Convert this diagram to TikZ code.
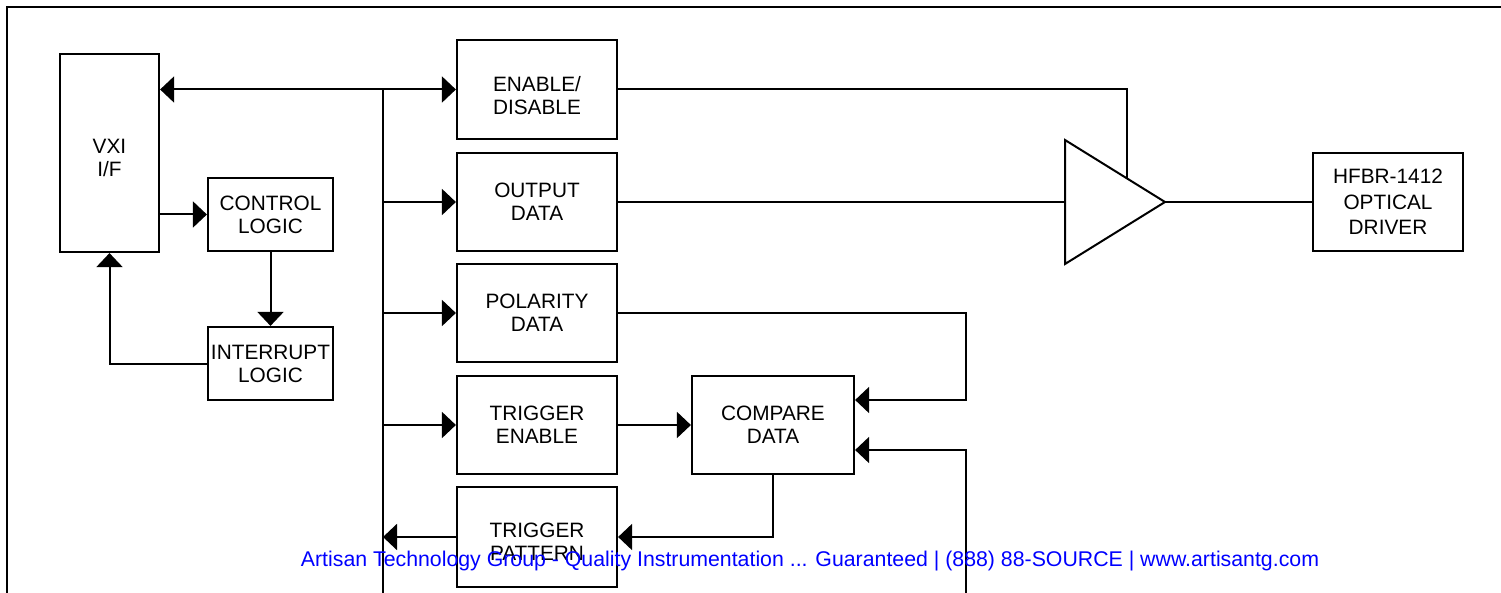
\documentclass[tikz,border=0pt]{standalone}
\usepackage{fontspec}
\setmainfont{Liberation Sans}
\usetikzlibrary{arrows.meta}
\newcommand{\shifted}[2]{\raisebox{#1}[\height][\depth]{\begin{tabular}{@{}c@{}}#2\end{tabular}}}
\begin{document}
\begin{tikzpicture}[x=1pt,y=-1pt,
  blk/.style={draw, line width=2.2pt, fill=white, align=center, inner sep=0pt,
    font=\fontsize{20.8}{23}\selectfont},
  wire/.style={line width=2pt},
  arr/.style={wire, -{Triangle[length=14pt,width=26pt]}},
  barr/.style={wire, {Triangle[length=14pt,width=26pt]}-{Triangle[length=14pt,width=26pt]}}]
\useasboundingbox (0,0) rectangle (1501,593);
% frame
\draw[line width=2pt] (7,593) -- (7,7) -- (1501,7);
% blocks
\node[blk, minimum width=99pt, minimum height=198pt] (vxi) at (109.5,153) {\shifted{-7pt}{VXI\\I/F}};
\node[blk, minimum width=125pt, minimum height=73pt] (ctrl) at (270.5,214.5) {CONTROL\\LOGIC};
\node[blk, minimum width=125pt, minimum height=73pt] (intr) at (270.5,363.5) {INTERRUPT\\LOGIC};
\node[blk, minimum width=160pt, minimum height=99pt] (en) at (537,89.5) {\shifted{-8.5pt}{ENABLE/\\DISABLE}};
\node[blk, minimum width=160pt, minimum height=98pt] (out) at (537,202) {OUTPUT\\DATA};
\node[blk, minimum width=160pt, minimum height=98pt] (pol) at (537,313) {POLARITY\\DATA};
\node[blk, minimum width=160pt, minimum height=98pt] (ten) at (537,425) {TRIGGER\\ENABLE};
\node[blk, minimum width=160pt, minimum height=100pt] (tpat) at (537,537) {\shifted{-7pt}{TRIGGER\\PATTERN}};
\node[blk, minimum width=162pt, minimum height=98pt] (cmp) at (773,425) {COMPARE\\DATA};
\node[blk, minimum width=150pt, minimum height=98pt, font=\fontsize{20.8}{25.5}\selectfont] (hfbr) at (1388,202) {HFBR-1412\\OPTICAL\\DRIVER};
% coordinates
\coordinate (bustop) at (383,89.5);
\coordinate (busbot) at (383,593);
\coordinate (tl) at (1065,140);
\coordinate (tb) at (1065,264);
\coordinate (ta) at (1165,202);
\coordinate (tin) at (1065,202);
\coordinate (tup) at (1127,178.5);
\coordinate (pr) at (966,400);
\coordinate (bt) at (966,450);
\coordinate (bb) at (966,593);
% connectors
\draw[barr] (vxi.east |- en.west) -- (en.west);
\draw[wire] (bustop) -- (busbot);
\draw[arr] (bustop |- out.west) -- (out.west);
\draw[arr] (bustop |- pol.west) -- (pol.west);
\draw[arr] (bustop |- ten.west) -- (ten.west);
\draw[arr] (tpat.west) -- (bustop |- tpat.west);
\draw[arr] (vxi.east |- ctrl.west) -- (ctrl.west);
\draw[arr] (ctrl.south) -- (intr.north);
\draw[arr] (intr.west) -| (vxi.south);
\draw[arr] (pol.east) -| (pr) -- (pr -| cmp.east);
\draw[arr] (bb) -- (bt) -- (bt -| cmp.east);
\draw[arr] (ten.east) -- (cmp.west);
\draw[arr] (cmp.south) |- (tpat.east);
\draw[wire] (out.east) -- (tin);
\draw[wire] (en.east) -| (tup);
\draw[wire] (ta) -- (hfbr.west);
% driver triangle
\draw[line width=2pt, fill=white, line join=miter] (tl) -- (ta) -- (tb) -- cycle;
% watermark
\node[anchor=base, text=blue, font=\fontsize{21.3}{24}\selectfont, inner sep=0pt] (wm) at (810,566) {Artisan Technology Group - Quality Instrumentation ... Guaranteed | (888) 88-SOURCE | www.artisantg.com};
\end{tikzpicture}
\end{document}
